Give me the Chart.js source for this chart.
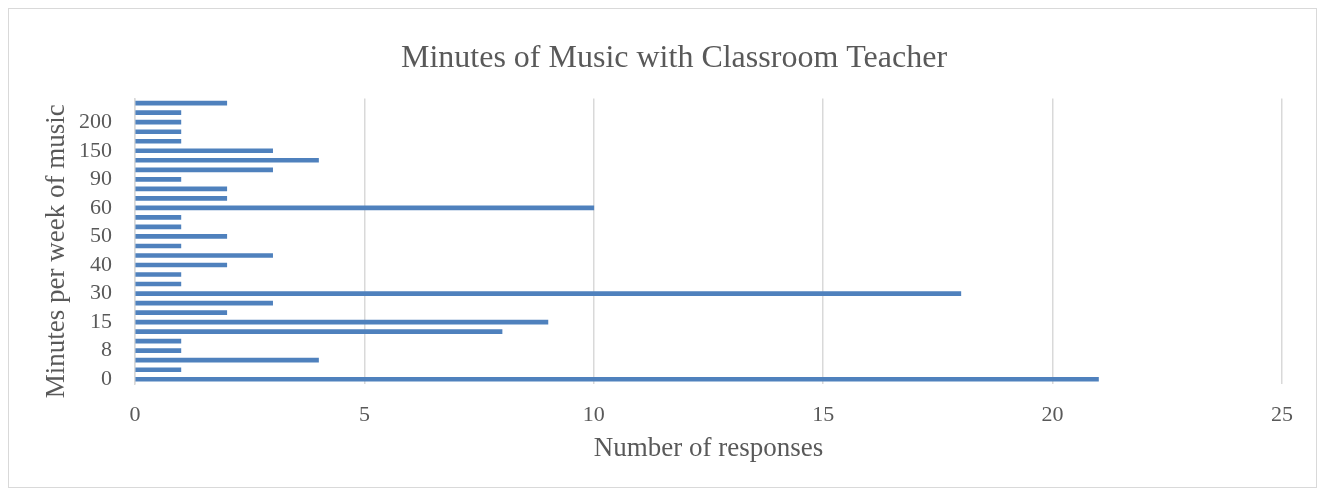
<!DOCTYPE html>
<html>
<head>
<meta charset="utf-8">
<script src="https://cdn.jsdelivr.net/npm/chart.js@4/dist/chart.umd.min.js"></script>
<style>
  body { margin: 0; background: #fff; }
  #wrap { position: relative; width: 1325px; height: 495px; }
  #frame { position: absolute; left: 8px; top: 8px; width: 1307px; height: 478px; border: 1px solid #d9d9d9; }
  canvas { position: absolute; left: 0; top: 0; }
</style>
</head>
<body>
<div id="wrap">
  <div id="frame"></div>
  <canvas id="chart" width="1325" height="495"></canvas>
</div>
<script>
// minutes per week (categories), bottom to top
const minutes = ['0', '5', '6', '8', '10', '12', '15', '20', '25', '30',
                 '32', '35', '40', '45', '48', '50', '55', '58', '60', '70',
                 '75', '90', '100', '120', '150', '160', '180', '200', '240', '300'];
// number of responses for each category
const responses = [21, 1, 4, 1, 1, 8, 9, 2, 3, 18,
                   1, 1, 2, 3, 1, 2, 1, 1, 10, 2,
                   2, 1, 3, 4, 3, 1, 1, 1, 1, 2];
const xTicks = [0, 5, 10, 15, 20, 25];

const grey = '#595959';
const serif = "'Liberation Serif', 'Times New Roman', serif";

// left padding moves the title a bit right of the page centre, like the original
const padLeft = 66;

new Chart(document.getElementById('chart'), {
    type: 'bar',
    data: {
        labels: minutes,
        datasets: [{
            label: 'Responses',
            data: responses,
            backgroundColor: '#4f81bd',
            borderWidth: 0,
            barThickness: 4
        }]
    },
    options: {
        indexAxis: 'y',
        responsive: false,
        animation: false,
        layout: { padding: { left: padLeft, right: 43, top: 0, bottom: 0 } },
        plugins: {
            legend: { display: false },
            tooltip: { enabled: false },
            title: {
                display: true,
                text: 'Minutes of Music with Classroom Teacher',
                color: grey,
                font: { family: serif, size: 32, weight: 'normal' },
                padding: { top: 39, bottom: 21 }
            }
        },
        scales: {
            x: {
                min: xTicks[0],
                max: xTicks[xTicks.length - 1],
                afterBuildTicks: scale => { scale.ticks = xTicks.map(v => ({ value: v })); },
                afterFit: scale => { scale.height = 111; },
                grid: { color: '#d9d9d9', lineWidth: 1.5, drawTicks: false },
                border: { display: false },
                ticks: { color: grey, padding: 18, font: { family: serif, size: 22 } },
                title: {
                    display: true,
                    text: 'Number of responses',
                    color: grey,
                    font: { family: serif, size: 27 },
                    padding: { top: 0, bottom: 30 }
                }
            },
            y: {
                reverse: true,
                afterFit: scale => { scale.width = 135 - padLeft; },
                grid: { display: false, drawTicks: false },
                border: { display: true, color: '#d9d9d9', width: 1.5 },
                ticks: {
                    color: grey,
                    padding: 23,
                    autoSkip: false,
                    font: { family: serif, size: 22 },
                    callback: function (val, i) { return i % 3 === 0 ? this.getLabelForValue(val) : ''; }
                },
                title: {
                    display: true,
                    // trailing spaces nudge the rotated title a little lower, as in the original
                    text: 'Minutes per week of music   ',
                    color: grey,
                    font: { family: serif, size: 27 },
                    padding: { top: 57 - padLeft - 16, bottom: 0 }
                }
            }
        }
    }
});
</script>
</body>
</html>
